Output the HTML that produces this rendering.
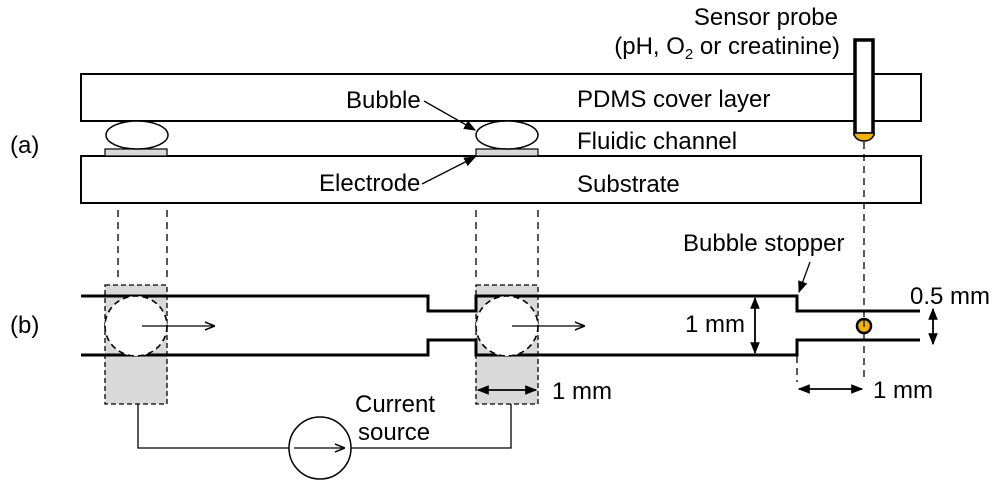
<!DOCTYPE html>
<html><head><style>body{margin:0;background:#fff}svg{display:block}text{font-family:"Liberation Sans",Arial,sans-serif;font-size:24px;fill:#000}</style></head>
<body>
<svg width="1000" height="489" viewBox="0 0 1000 489" xmlns="http://www.w3.org/2000/svg">
<defs>
<marker id="a" viewBox="0 0 10 10" refX="9" refY="5" markerWidth="9" markerHeight="9" markerUnits="userSpaceOnUse" orient="auto-start-reverse"><path d="M0,1 L10,5 L0,9 Z" fill="#000"/></marker>
<marker id="b" viewBox="0 0 10 10" refX="9" refY="5" markerWidth="12" markerHeight="12" markerUnits="userSpaceOnUse" orient="auto-start-reverse"><path d="M0,1 L10,5 L0,9 Z" fill="#000"/></marker>
<marker id="o" viewBox="0 0 10 10" refX="10" refY="5" markerWidth="10" markerHeight="10" markerUnits="userSpaceOnUse" orient="auto"><path d="M-8,-2 L10,5 L-8,12" fill="none" stroke="#000" stroke-width="1.5"/></marker>
</defs>
<!-- (a) -->
<rect x="81" y="74" width="840" height="47" fill="#fff" stroke="#000" stroke-width="2"/>
<rect x="81" y="156" width="840" height="47" fill="#fff" stroke="#000" stroke-width="2"/>
<rect x="105" y="149" width="62" height="7" fill="#d9d9d9" stroke="#000" stroke-width="1.2"/>
<rect x="476" y="149" width="62" height="7" fill="#d9d9d9" stroke="#000" stroke-width="1.2"/>
<ellipse cx="137" cy="135" rx="31" ry="14" fill="#fff" stroke="#000" stroke-width="1.5"/>
<ellipse cx="507" cy="135" rx="31" ry="14" fill="#fff" stroke="#000" stroke-width="1.5"/>
<!-- probe -->
<rect x="855" y="40" width="18" height="94" fill="#fff" stroke="#000" stroke-width="3.5"/>
<path d="M854,133 A10,8 0 0 0 874,133 Z" fill="#f2b300" stroke="#000" stroke-width="1.5"/>
<g stroke="#000" stroke-width="1.3" stroke-dasharray="7,5" fill="none">
<line x1="864" y1="142" x2="864" y2="380"/>
<line x1="118" y1="210" x2="118" y2="280"/>
<line x1="167" y1="210" x2="167" y2="280"/>
<line x1="476" y1="210" x2="476" y2="280"/>
<line x1="538" y1="210" x2="538" y2="280"/>
<line x1="797" y1="356" x2="797" y2="382"/>
</g>
<text x="346" y="108">Bubble</text>
<line x1="424" y1="101" x2="475" y2="130" stroke="#000" stroke-width="1.3" marker-end="url(#b)"/>
<text x="319" y="191">Electrode</text>
<line x1="422" y1="184" x2="475" y2="157" stroke="#000" stroke-width="1.3" marker-end="url(#b)"/>
<text x="577" y="107">PDMS cover layer</text>
<text x="577" y="149">Fluidic channel</text>
<text x="577" y="192">Substrate</text>
<text x="838" y="25" text-anchor="end">Sensor probe</text>
<text x="840" y="54" text-anchor="end">(pH, O<tspan font-size="15" dy="5">2</tspan><tspan dy="-5"> or creatinine)</tspan></text>
<text x="10" y="153">(a)</text>
<text x="10" y="333">(b)</text>
<!-- (b) -->
<rect x="105" y="285" width="62" height="119" fill="#d9d9d9" stroke="#000" stroke-width="1.3" stroke-dasharray="5,3"/>
<rect x="476" y="285" width="62" height="119" fill="#d9d9d9" stroke="#000" stroke-width="1.3" stroke-dasharray="5,3"/>
<path d="M81,296 H428 V311 H476 V296 H797 V311 H920" fill="none" stroke="#000" stroke-width="3"/>
<path d="M81,355 H428 V340 H476 V355 H797 V340 H920" fill="none" stroke="#000" stroke-width="3"/>
<ellipse cx="136" cy="326" rx="31" ry="30" fill="#fff" stroke="#000" stroke-width="1.6" stroke-dasharray="6,4"/>
<ellipse cx="507" cy="326" rx="31" ry="30" fill="#fff" stroke="#000" stroke-width="1.6" stroke-dasharray="6,4"/>
<line x1="142" y1="326" x2="215" y2="326" stroke="#000" stroke-width="1.3" marker-end="url(#o)"/>
<line x1="512" y1="326" x2="585" y2="326" stroke="#000" stroke-width="1.3" marker-end="url(#o)"/>
<circle cx="864" cy="326" r="7" fill="#f2b300" stroke="#000" stroke-width="2.5"/>
<line x1="864" y1="320" x2="864" y2="327" stroke="#000" stroke-width="1.2"/>
<!-- dims -->
<line x1="755" y1="298" x2="755" y2="353" stroke="#000" stroke-width="1.8" marker-start="url(#b)" marker-end="url(#b)"/>
<text x="685" y="332">1 mm</text>
<line x1="478" y1="390" x2="536" y2="390" stroke="#000" stroke-width="1.8" marker-start="url(#b)" marker-end="url(#b)"/>
<text x="552" y="399">1 mm</text>
<line x1="799" y1="389" x2="862" y2="389" stroke="#000" stroke-width="1.8" marker-start="url(#b)" marker-end="url(#b)"/>
<text x="873" y="398">1 mm</text>
<line x1="933" y1="309" x2="933" y2="344" stroke="#000" stroke-width="1.8" marker-start="url(#b)" marker-end="url(#b)"/>
<text x="910" y="304">0.5 mm</text>
<text x="683" y="251">Bubble stopper</text>
<line x1="810" y1="262" x2="799" y2="292" stroke="#000" stroke-width="1.3" marker-end="url(#b)"/>
<!-- current source -->
<path d="M138,404 V448 H289 M351,448 H511 V404" fill="none" stroke="#000" stroke-width="1.3"/>
<circle cx="320" cy="448" r="31" fill="#fff" stroke="#000" stroke-width="1.5"/>
<line x1="294" y1="448" x2="345" y2="448" stroke="#000" stroke-width="1.3" marker-end="url(#o)"/>
<text x="355" y="412">Current</text>
<text x="358" y="440">source</text>
</svg>
</body></html>
